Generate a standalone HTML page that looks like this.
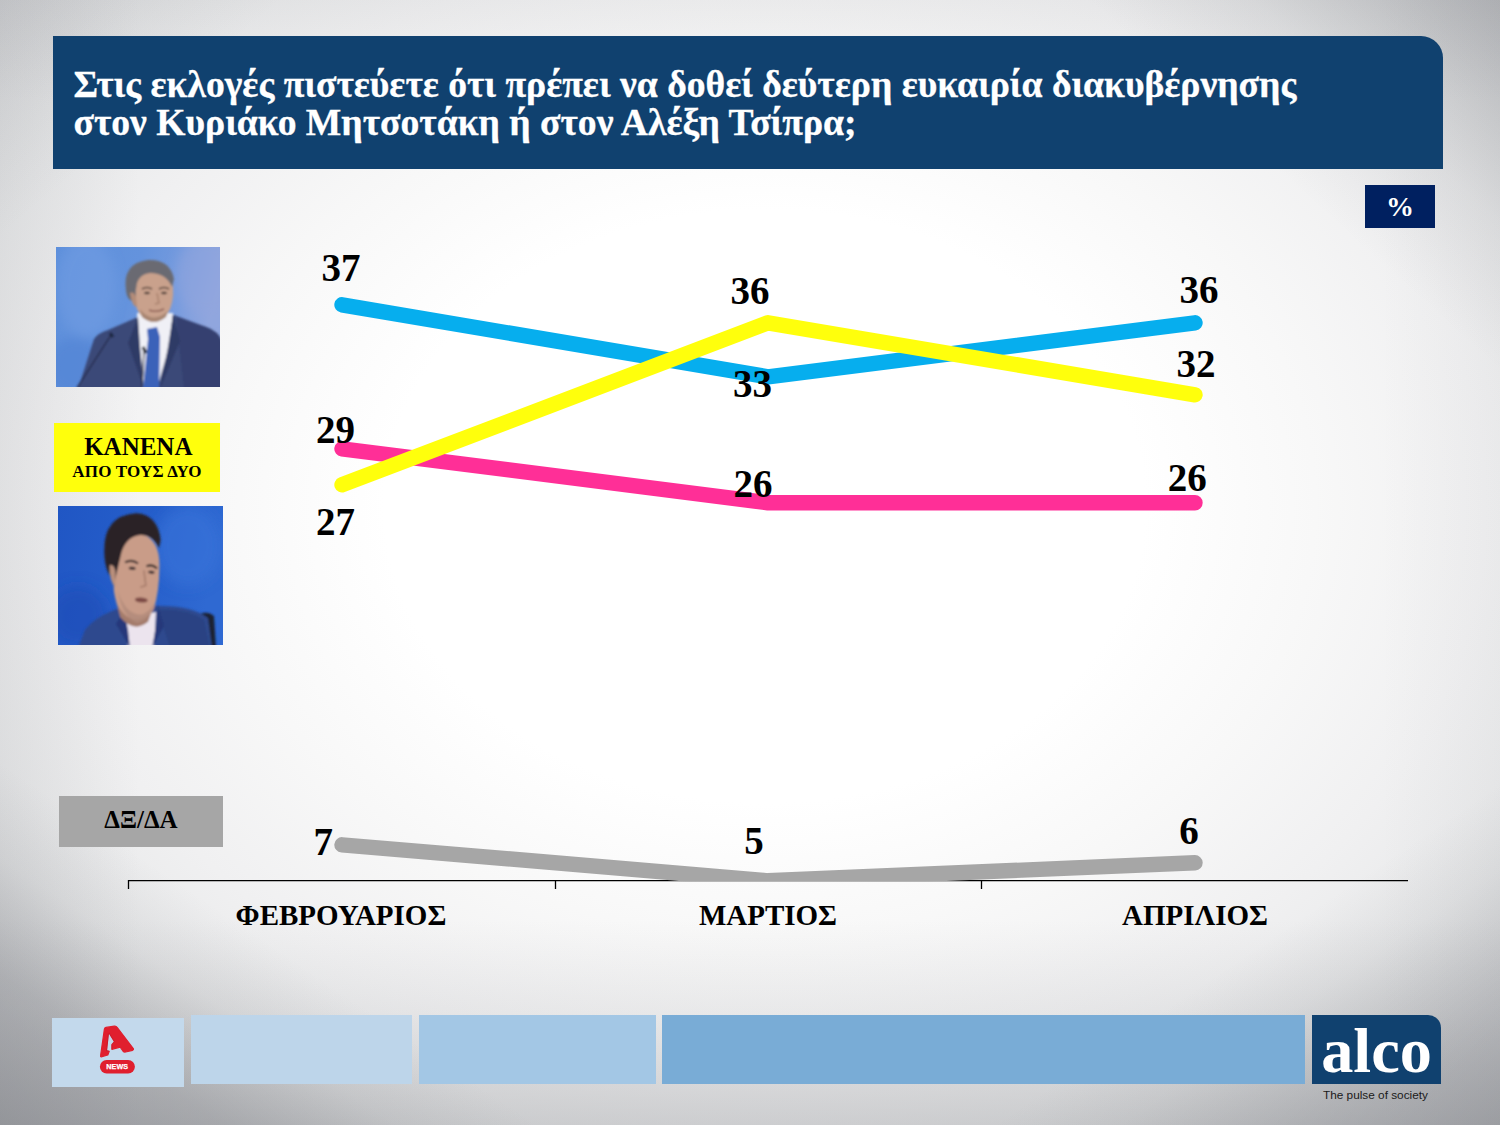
<!DOCTYPE html>
<html lang="el">
<head>
<meta charset="utf-8">
<title>Chart</title>
<style>
html,body{margin:0;padding:0;}
body{width:1500px;height:1125px;position:relative;overflow:hidden;font-family:"Liberation Serif",serif;background:#fff;}
#bg{position:absolute;left:0;top:0;width:1500px;height:1125px;
background:
 linear-gradient(214deg, rgba(112,114,120,0) 0%, rgba(112,114,120,0) 83%, rgba(112,114,120,0.10) 87.5%, rgba(112,114,120,0.36) 93%, rgba(112,114,120,0.52) 100%),
 linear-gradient(146deg, rgba(112,114,120,0) 0%, rgba(112,114,120,0) 84%, rgba(112,114,120,0.08) 88%, rgba(112,114,120,0.28) 94%, rgba(112,114,120,0.45) 100%),
 linear-gradient(42deg, rgba(112,114,120,0) 0%, rgba(112,114,120,0) 85%, rgba(112,114,120,0.10) 91%, rgba(112,114,120,0.38) 100%),
 linear-gradient(320deg, rgba(112,114,120,0) 0%, rgba(112,114,120,0) 90%, rgba(112,114,120,0.12) 100%),
 linear-gradient(to right, rgba(125,127,132,0.12) 0px, rgba(125,127,132,0) 140px, rgba(125,127,132,0) 1380px, rgba(125,127,132,0.05) 1500px),
 linear-gradient(to bottom, rgba(125,127,132,0.08) 0px, rgba(125,127,132,0) 100px, rgba(125,127,132,0) 920px, rgba(125,127,132,0.09) 1010px, rgba(125,127,132,0.28) 1125px),
 radial-gradient(ellipse 1000px 780px at 51% 45%, #ffffff 0%, #ffffff 38%, #f8f8f8 55%, #f0f0f1 72%, #e6e7e8 88%, #dedfe1 100%);
}
.abs{position:absolute;}
#hdr{left:53px;top:36px;width:1390px;height:133px;background:#10416f;border-top-right-radius:22px;}
#title{left:73.5px;top:64.5px;color:#fff;font-weight:bold;font-size:37.62px;line-height:38px;-webkit-text-stroke:0.3px #fff;white-space:nowrap;}
#pct{left:1365px;top:185px;width:70px;height:43px;background:#002060;color:#fff;font-weight:bold;font-size:28px;text-align:center;line-height:44px;}
.lbl{position:absolute;font-weight:bold;font-size:39px;line-height:38px;color:#000;white-space:nowrap;transform:translate(-50%,0);}
.cat{position:absolute;font-weight:bold;font-size:29px;line-height:26px;color:#000;white-space:nowrap;transform:translate(-50%,0);}
</style>
</head>
<body>
<div id="bg"></div>
<div id="hdr" class="abs"></div>
<div id="title" class="abs">Στις εκλογές πιστεύετε ότι πρέπει να δοθεί δεύτερη ευκαιρία διακυβέρνησης<br>στον Κυριάκο Μητσοτάκη ή στον Αλέξη Τσίπρα;</div>
<div id="pct" class="abs">%</div>

<svg class="abs" style="left:0;top:0" width="1500" height="1125" viewBox="0 0 1500 1125">
  <defs><clipPath id="plot"><rect x="128" y="230" width="1290" height="651.2"/></clipPath></defs>
  <g stroke="#000" stroke-width="1.3" fill="none">
    <path d="M128,880.6 H1408 M128.5,880 V889 M555.5,880 V889 M981.5,880 V889"/>
  </g>
  <g fill="none" stroke-width="15.4" stroke-linecap="round" stroke-linejoin="round" clip-path="url(#plot)">
    <polyline stroke="#a6a6a6" points="342,844.8 768,880.8 1195,862.8"/>
    <polyline stroke="#06aeee" points="342,304.8 768,376.8 1195,322.8"/>
    <polyline stroke="#ff2f97" points="342,448.8 768,502.8 1195,502.8"/>
    <polyline stroke="#ffff0c" points="342,484.8 768,322.8 1195,394.8"/>
  </g>
</svg>

<div class="lbl" style="left:341px;top:249px">37</div>
<div class="lbl" style="left:750px;top:272px">36</div>
<div class="lbl" style="left:1199px;top:271px">36</div>
<div class="lbl" style="left:752.4px;top:365px">33</div>
<div class="lbl" style="left:1196px;top:345px">32</div>
<div class="lbl" style="left:335.5px;top:411px">29</div>
<div class="lbl" style="left:335.5px;top:503px">27</div>
<div class="lbl" style="left:753px;top:465px">26</div>
<div class="lbl" style="left:1187.2px;top:459px">26</div>
<div class="lbl" style="left:323.3px;top:823px">7</div>
<div class="lbl" style="left:754px;top:822px">5</div>
<div class="lbl" style="left:1189px;top:812px">6</div>

<div class="cat" style="left:341px;top:901.7px">ΦΕΒΡΟΥΑΡΙΟΣ</div>
<div class="cat" style="left:768px;top:901.7px">ΜΑΡΤΙΟΣ</div>
<div class="cat" style="left:1195px;top:901.7px">ΑΠΡΙΛΙΟΣ</div>

<!-- left legend -->
<svg class="abs" style="left:56px;top:247px" width="164" height="140" viewBox="0 0 164 140">
  <defs>
    <linearGradient id="p1bg" x1="0" y1="0" x2="1" y2="0.25">
      <stop offset="0" stop-color="#5d8fdb"/><stop offset="0.5" stop-color="#6493dd"/><stop offset="0.8" stop-color="#789cde"/><stop offset="1" stop-color="#90a6de"/>
    </linearGradient>
    <filter id="bl1" x="-10%" y="-10%" width="120%" height="120%"><feGaussianBlur stdDeviation="0.9"/></filter>
    <filter id="bl1b" x="-20%" y="-20%" width="140%" height="140%"><feGaussianBlur stdDeviation="6"/></filter>
    <clipPath id="c1"><rect width="164" height="140"/></clipPath>
  </defs>
  <rect width="164" height="140" fill="url(#p1bg)"/>
  <g clip-path="url(#c1)">
   <g filter="url(#bl1b)">
    <ellipse cx="30" cy="40" rx="30" ry="50" fill="#6f9ce2" opacity="0.6"/>
    <ellipse cx="150" cy="30" rx="30" ry="40" fill="#93a5de" opacity="0.6"/>
    <ellipse cx="20" cy="120" rx="30" ry="30" fill="#4f82d4" opacity="0.6"/>
   </g>
   <g filter="url(#bl1)">
    <path d="M22,142 L38,92 Q42,86 52,83 L82,70 L118,68 L150,80 Q162,84 166,94 L166,142 Z" fill="#3a4878"/>
    <path d="M120,70 L150,80 Q162,84 166,94 L166,142 L128,142 Z" fill="#344170"/>
    <path d="M81,66 L117,66 L113,100 L101,142 L87,142 L83,100 Z" fill="#f0f0f6"/>
    <path d="M82,70 L72,96 L88,142 L84,100 Z" fill="#2e3a66"/>
    <path d="M117,68 L124,94 L104,142 L112,100 Z" fill="#2e3a66"/>
    <path d="M91,82 L101,80 L104,90 L103,142 L87,142 L92,92 Z" fill="#3b62b9"/>
    <path d="M79,30 Q78,22 96,21 Q116,22 117,40 Q118,56 112,66 Q104,76 96,75 Q86,73 81,62 Q78,52 79,30 Z" fill="#c9a18c"/>
    <path d="M70,44 Q66,16 92,13 Q114,12 118,32 L116,40 Q110,26 94,26 Q84,27 81,36 Q79,44 80,52 L76,54 Q71,52 70,44 Z" fill="#6b6b72"/>
    <path d="M74,46 Q78,44 80,50 L81,60 Q76,60 74,46 Z" fill="#b48c78"/>
    <path d="M86,42 Q91,39 96,42" stroke="#4d3c36" stroke-width="1.6" fill="none"/>
    <path d="M103,42 Q108,39 113,42" stroke="#4d3c36" stroke-width="1.6" fill="none"/>
    <ellipse cx="91" cy="46" rx="3" ry="1.3" fill="#4a3a36"/>
    <ellipse cx="108" cy="46" rx="3" ry="1.3" fill="#4a3a36"/>
    <path d="M101,46 L103,56 L99,57" stroke="#a8806c" stroke-width="1.4" fill="none"/>
    <path d="M93,63 Q100,66 108,62" stroke="#8c5d52" stroke-width="1.5" fill="none"/>
    <path d="M84,62 Q96,78 112,64 L110,70 Q98,80 86,70 Z" fill="#a88672"/>
    <path d="M55,88 L21,141" stroke="#2a3152" stroke-width="1.5" fill="none"/>
    <path d="M54,86 L57,90" stroke="#1f2540" stroke-width="3" fill="none"/>
    <path d="M88,104 L86,140" stroke="#20263f" stroke-width="1.3" fill="none"/>
    <path d="M87,100 L90,106" stroke="#161a2c" stroke-width="3" fill="none"/>
   </g>
  </g>
</svg>

<div class="abs" style="left:54px;top:423px;width:166px;height:69px;background:#ffff0c;"></div>
<div class="abs" id="kan1" style="left:55.3px;width:166px;top:434.3px;text-align:center;font-weight:bold;font-size:25px;line-height:26px;color:#000;">ΚΑΝΕΝΑ</div>
<div class="abs" id="kan2" style="left:54px;width:166px;top:463px;text-align:center;font-weight:bold;font-size:17px;line-height:18px;letter-spacing:0.2px;color:#000;white-space:nowrap;">ΑΠΟ ΤΟΥΣ ΔΥΟ</div>

<svg class="abs" style="left:58px;top:505.5px" width="165" height="139" viewBox="0 0 165 139">
  <defs>
    <linearGradient id="p2bg" x1="0" y1="0" x2="1" y2="0.2">
      <stop offset="0" stop-color="#2056c4"/><stop offset="0.6" stop-color="#265fcb"/><stop offset="1" stop-color="#2f69d2"/>
    </linearGradient>
    <filter id="bl2" x="-10%" y="-10%" width="120%" height="120%"><feGaussianBlur stdDeviation="0.9"/></filter>
    <filter id="bl2b" x="-20%" y="-20%" width="140%" height="140%"><feGaussianBlur stdDeviation="7"/></filter>
    <clipPath id="c2"><rect width="165" height="139"/></clipPath>
  </defs>
  <rect width="165" height="139" fill="url(#p2bg)"/>
  <g clip-path="url(#c2)">
   <g filter="url(#bl2b)">
    <ellipse cx="130" cy="40" rx="34" ry="40" fill="#3a74da" opacity="0.55"/>
    <ellipse cx="20" cy="110" rx="30" ry="30" fill="#1c4db6" opacity="0.6"/>
   </g>
   <g filter="url(#bl2)">
    <path d="M140,109 Q149,104 156,110 L158,142 L141,142 Z" fill="#1c2233"/>
    <path d="M20,142 L27,124 Q36,112 54,105 L70,98 L104,100 Q134,100 150,112 L154,142 Z" fill="#2e4a8e"/>
    <path d="M100,104 Q128,102 146,114 L152,142 L112,142 Z" fill="#294283"/>
    <path d="M66,112 L98,106 L96,142 L70,142 Z" fill="#ece4ee"/>
    <path d="M66,104 L58,118 L72,142 L70,124 Z" fill="#25397a"/>
    <path d="M100,100 L106,120 L94,142 L98,120 Z" fill="#25397a"/>
    <g transform="translate(78,68) rotate(5) scale(1.08,1.06) translate(-77,-66)">
    <path d="M58,44 Q60,26 80,28 Q96,32 98,56 Q100,82 96,98 Q88,118 76,114 Q64,108 58,84 Q55,64 58,44 Z" fill="#c99c88"/>
    <path d="M62,96 Q76,118 94,102 L92,110 Q80,122 66,108 Z" fill="#a47c6c"/>
    <path d="M46,48 Q42,14 72,9 Q92,8 97,32 L96,40 Q90,28 78,29 Q66,31 62,46 L60,60 L58,74 Q48,68 46,48 Z" fill="#2a2327"/>
    <path d="M52,60 Q56,58 58,66 L59,80 Q53,76 52,60 Z" fill="#b98f7c"/>
    <path d="M66,56 Q72,52 78,56" stroke="#2c2224" stroke-width="2" fill="none"/>
    <path d="M86,58 Q91,55 96,59" stroke="#2c2224" stroke-width="2" fill="none"/>
    <ellipse cx="73" cy="61" rx="3.2" ry="1.4" fill="#33282a"/>
    <ellipse cx="91" cy="63" rx="3" ry="1.4" fill="#33282a"/>
    <path d="M84,62 L87,76 L82,78" stroke="#a67c6a" stroke-width="1.5" fill="none"/>
    <ellipse cx="84" cy="90" rx="6" ry="2.4" fill="#7d4a44"/>
    <path d="M62,84 Q70,104 84,104 Q92,102 96,92 Q94,108 82,112 Q68,108 62,84 Z" fill="#b0897a" opacity="0.8"/>
    </g>
   </g>
  </g>
</svg>

<div class="abs" style="left:59px;top:796px;width:164px;height:51px;background:#a6a6a6;"></div>
<div class="abs" id="dxda" style="left:59px;width:164px;top:806.2px;text-align:center;font-weight:bold;font-size:25px;line-height:28px;color:#000;">ΔΞ/ΔΑ</div>

<!-- footer -->
<div class="abs" style="left:52px;top:1018px;width:132px;height:69px;background:#c3d9ec;"></div>
<div class="abs" style="left:191px;top:1015px;width:221px;height:69px;background:#bdd5ea;"></div>
<div class="abs" style="left:419px;top:1015px;width:237px;height:69px;background:#a3c7e5;"></div>
<div class="abs" style="left:662px;top:1015px;width:643px;height:69px;background:#79acd6;"></div>
<div class="abs" style="left:1312px;top:1015px;width:129px;height:69px;background:#10416f;border-top-right-radius:13px;"></div>
<div class="abs" id="alco" style="left:1321.2px;top:1018.8px;color:#fff;font-weight:bold;font-size:64.3px;line-height:64px;letter-spacing:0px;">alco</div>
<div class="abs" id="pulse" style="left:1323px;top:1088px;font-family:'Liberation Sans',sans-serif;font-size:11.8px;line-height:14px;color:#1a1a1a;white-space:nowrap;">The pulse of society</div>

<svg class="abs" style="left:96px;top:1022px" width="44" height="56" viewBox="0 0 44 56">
  <path d="M8.4,7 Q8.6,5.6 10,5.4 L18.4,4.2 Q20.2,4 21.3,5.5 L37.3,26.6 Q37.9,27.8 36.6,28.3 L29.6,30 Q28,30.3 26.9,29 L24.2,25.1 L15.9,27.3 L15.9,22.7 L18.5,19.7 L13.1,10.9 L12.4,11.5 L10.5,28.7 L13.2,29.4 L11.8,33 L5.2,34.8 Q4.4,34.8 4.6,33.7 Z" fill="#e01f2e" stroke="#e01f2e" stroke-width="1.2" stroke-linejoin="round"/>
  <path d="M12.4,11.5 L10.5,28.7 L13.2,29.4" fill="none" stroke="#a81222" stroke-width="0.7" opacity="0.55"/>
  <path d="M13.1,10.9 L18.5,19.7 L15.9,22.7 L15.9,27.3" fill="none" stroke="#a81222" stroke-width="0.7" opacity="0.45"/>
  <rect x="3.9" y="37.9" width="35" height="13.5" rx="6.75" fill="#e01f2e"/>
  <text x="21.2" y="47.2" text-anchor="middle" font-family="Liberation Sans, sans-serif" font-weight="bold" font-size="7.2" fill="#fff" stroke="#fff" stroke-width="0.25" letter-spacing="0.1">NEWS</text>
</svg>

</body>
</html>
